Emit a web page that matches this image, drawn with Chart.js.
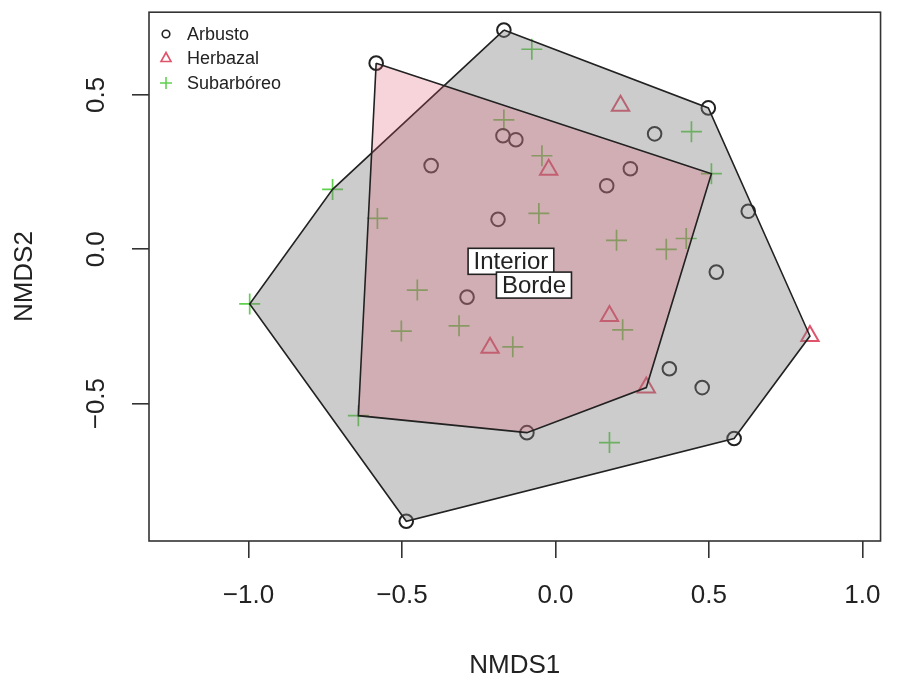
<!DOCTYPE html>
<html>
<head>
<meta charset="utf-8">
<script src="https://cdn.jsdelivr.net/npm/chart.js@4"></script>
<style>
  html, body { margin: 0; padding: 0; background: #fff; }
  #wrap { width: 903px; height: 686px; }
</style>
</head>
<body>
<div id="wrap"><canvas id="nmds" width="903" height="686"></canvas></div>
<script>
// NMDS scores
const arbustoX = [-0.168, -0.584, 0.498, 0.323, -0.171, -0.129, -0.405, 0.244, 0.167, 0.628, -0.187, 0.524, -0.288, 0.371, 0.478, -0.093, 0.582, -0.486];
const arbustoY = [0.710, 0.603, 0.458, 0.374, 0.368, 0.355, 0.271, 0.261, 0.206, 0.123, 0.097, -0.074, -0.155, -0.387, -0.448, -0.594, -0.613, -0.881];

const herbazalX = [0.212, -0.022, 0.176, -0.213, 0.296, 0.829];
const herbazalY = [0.465, 0.258, -0.216, -0.319, -0.448, -0.281];

const subarboreoX = [-0.077, -0.168, 0.443, -0.044, 0.508, -0.726, -0.054, -0.580, 0.199, 0.426, 0.361, -0.450, -0.996, -0.502, -0.314, -0.139, 0.219, -0.642, 0.176];
const subarboreoY = [0.648, 0.419, 0.381, 0.303, 0.245, 0.194, 0.116, 0.100, 0.029, 0.035, 0.000, -0.132, -0.177, -0.265, -0.248, -0.316, -0.261, -0.539, -0.626];

// hull vertices (ordihull), grey = Borde, pink = Interior
const hullBordeX = [-0.168, 0.498, 0.829, 0.582, -0.486, -0.996, -0.726, -0.168];
const hullBordeY = [0.710, 0.458, -0.281, -0.613, -0.881, -0.177, 0.194, 0.710];
const hullInteriorX = [-0.584, 0.508, 0.296, -0.093, -0.642, -0.584];
const hullInteriorY = [0.603, 0.245, -0.448, -0.594, -0.539, 0.603];

// group labels
const groupNames = ['Interior', 'Borde'];
const groupX = [-0.145, -0.070];
const groupY = [-0.039, -0.116];

const vegNames = ['Arbusto', 'Herbazal', 'Subarbóreo'];

const xTicks = [-1, -0.5, 0, 0.5, 1];
const xTickLabels = ['\u22121.0', '\u22120.5', '0.0', '0.5', '1.0'];
const yTicks = [-0.5, 0, 0.5];
const yTickLabels = ['\u22120.5', '0.0', '0.5'];

const FONT = "'Liberation Sans', Arial, Helvetica, sans-serif";
const INK = '#222';
const PINK = '#DF536B';
const GREEN = '#61D04F';

function pts(xs, ys) {
  return xs.map((x, i) => ({ x: x, y: ys[i] }));
}

// box around the plot region, like R's bty="o"
const boxPlugin = {
  id: 'box',
  afterDraw(chart) {
    const { ctx, chartArea: a } = chart;
    ctx.save();
    ctx.strokeStyle = '#333';
    ctx.lineWidth = 1.6;
    ctx.strokeRect(a.left, a.top, a.right - a.left, a.bottom - a.top);
    ctx.restore();
  }
};

// y tick labels rotated (las = 0)
const yLabelPlugin = {
  id: 'yLabels',
  afterDraw(chart) {
    const { ctx } = chart;
    const ys = chart.scales.y;
    ctx.save();
    ctx.fillStyle = INK;
    ctx.font = '26px ' + FONT;
    ctx.textAlign = 'center';
    ctx.textBaseline = 'middle';
    yTicks.forEach((v, i) => {
      ctx.save();
      ctx.translate(97, ys.getPixelForValue(v));
      ctx.rotate(-Math.PI / 2);
      ctx.fillText(yTickLabels[i], 0, 0);
      ctx.restore();
    });
    ctx.restore();
  }
};

// boxed group labels at the hull centres
const groupLabelPlugin = {
  id: 'groupLabels',
  afterDatasetsDraw(chart) {
    const { ctx } = chart;
    const xs = chart.scales.x, ys = chart.scales.y;
    ctx.save();
    ctx.font = '24px ' + FONT;
    ctx.textAlign = 'center';
    ctx.textBaseline = 'middle';
    groupNames.forEach((name, i) => {
      const px = xs.getPixelForValue(groupX[i]);
      const py = ys.getPixelForValue(groupY[i]);
      const w = ctx.measureText(name).width + 11;
      const h = 26;
      ctx.fillStyle = '#fff';
      ctx.fillRect(px - w / 2, py - h / 2, w, h);
      ctx.strokeStyle = INK;
      ctx.lineWidth = 1.6;
      ctx.strokeRect(px - w / 2, py - h / 2, w, h);
      ctx.fillStyle = INK;
      ctx.fillText(name, px, py + 1);
    });
    ctx.restore();
  }
};

// legend in the top-left corner, no frame
const legendPlugin = {
  id: 'rLegend',
  afterDraw(chart) {
    const { ctx } = chart;
    const mx = 166, tx = 187, rows = [34, 58, 83];
    ctx.save();
    ctx.lineWidth = 1.6;
    // circle
    ctx.strokeStyle = INK;
    ctx.beginPath();
    ctx.arc(mx, rows[0], 3.8, 0, Math.PI * 2);
    ctx.stroke();
    // triangle
    ctx.strokeStyle = PINK;
    ctx.beginPath();
    ctx.moveTo(mx, rows[1] - 5.5);
    ctx.lineTo(mx + 5, rows[1] + 3.5);
    ctx.lineTo(mx - 5, rows[1] + 3.5);
    ctx.closePath();
    ctx.stroke();
    // plus
    ctx.strokeStyle = GREEN;
    ctx.beginPath();
    ctx.moveTo(mx - 6, rows[2]); ctx.lineTo(mx + 6, rows[2]);
    ctx.moveTo(mx, rows[2] - 6); ctx.lineTo(mx, rows[2] + 6);
    ctx.stroke();
    ctx.fillStyle = INK;
    ctx.font = '18px ' + FONT;
    ctx.textAlign = 'left';
    ctx.textBaseline = 'middle';
    vegNames.forEach((n, i) => ctx.fillText(n, tx, rows[i] + 1));
    ctx.restore();
  }
};

new Chart(document.getElementById('nmds'), {
  type: 'scatter',
  data: {
    datasets: [
      {
        type: 'line', label: 'hull Interior', order: 1,
        data: pts(hullInteriorX, hullInteriorY),
        borderColor: INK, borderWidth: 1.6, tension: 0, pointRadius: 0,
        backgroundColor: 'rgba(223, 83, 107, 0.25)', fill: 'shape'
      },
      {
        type: 'line', label: 'hull Borde', order: 2,
        data: pts(hullBordeX, hullBordeY),
        borderColor: INK, borderWidth: 1.6, tension: 0, pointRadius: 0,
        backgroundColor: 'rgba(127, 127, 127, 0.4)', fill: 'shape'
      },
      {
        label: vegNames[0], order: 3,
        data: pts(arbustoX, arbustoY),
        pointStyle: 'circle', pointRadius: 6.8, borderWidth: 2,
        borderColor: INK, backgroundColor: 'rgba(0,0,0,0)'
      },
      {
        label: vegNames[1], order: 3,
        data: pts(herbazalX, herbazalY),
        pointStyle: 'triangle', pointRadius: 10, borderWidth: 2,
        borderColor: PINK, backgroundColor: 'rgba(0,0,0,0)'
      },
      {
        label: vegNames[2], order: 3,
        data: pts(subarboreoX, subarboreoY),
        pointStyle: 'cross', pointRadius: 10.5, borderWidth: 1.7,
        borderColor: GREEN, backgroundColor: 'rgba(0,0,0,0)'
      }
    ]
  },
  options: {
    responsive: false,
    animation: false,
    layout: { padding: { top: 10, right: 20, left: 0, bottom: 0 } },
    plugins: {
      legend: { display: false },
      tooltip: { enabled: false }
    },
    scales: {
      x: {
        type: 'linear',
        min: -1.324, max: 1.059,
        afterBuildTicks: s => { s.ticks = xTicks.map(v => ({ value: v })); },
        afterFit: s => { s.height = 145; },
        grid: { drawOnChartArea: false, drawTicks: true, tickLength: 17, color: '#333', lineWidth: 1.6 },
        border: { display: false },
        ticks: {
          padding: 22,
          color: INK,
          font: { family: FONT, size: 26 },
          maxRotation: 0,
          callback: (v, i) => xTickLabels[i]
        },
        title: {
          display: true, text: 'NMDS1', color: INK,
          font: { family: FONT, size: 26 },
          padding: { top: 0, bottom: 5 }
        }
      },
      y: {
        type: 'linear',
        min: -0.945, max: 0.768,
        afterBuildTicks: s => { s.ticks = yTicks.map(v => ({ value: v })); },
        afterFit: s => { s.width = 149; },
        grid: { drawOnChartArea: false, drawTicks: true, tickLength: 17, color: '#333', lineWidth: 1.6 },
        border: { display: false },
        ticks: { display: false },
        title: {
          display: true, text: 'NMDS2', color: INK,
          font: { family: FONT, size: 26 },
          padding: { top: 9, bottom: 0 }
        }
      }
    }
  },
  plugins: [boxPlugin, groupLabelPlugin, yLabelPlugin, legendPlugin]
});
</script>
</body>
</html>
